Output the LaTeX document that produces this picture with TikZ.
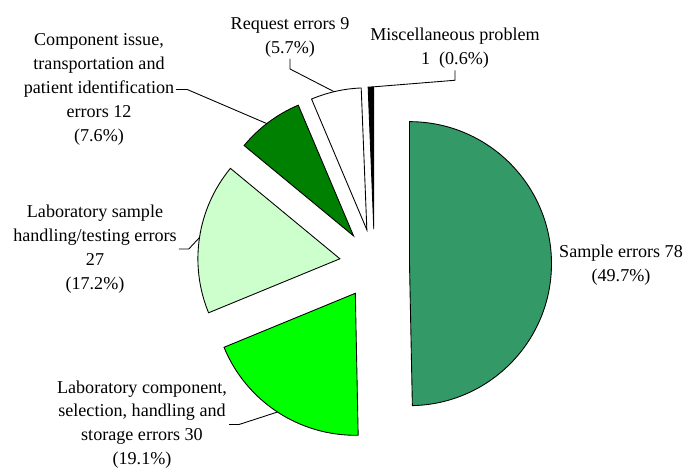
\documentclass[tikz,border=0pt]{standalone}
\usepackage{fontspec}
\setmainfont{Liberation Serif}
\usepackage{xcolor}
\usetikzlibrary{calc}
\definecolor{samplegreen}{RGB}{51,153,102}
\definecolor{labcompgreen}{RGB}{0,255,0}
\definecolor{labsamplegreen}{RGB}{204,255,204}
\definecolor{compgreen}{RGB}{0,128,0}

\begin{document}
\begin{tikzpicture}[
 x=0.02cm, y=0.02cm,
 slice/.style={draw=black, line width=0.5pt},
 label/.style={align=center, inner sep=1pt, font=\fontsize{10.3}{13.6}\selectfont},
 leader/.style={draw=black, line width=0.5pt}
]
\useasboundingbox (0,0) rectangle (685,468);

% Pie centre
\coordinate (c) at (374.5,204);

% Slices (exploded by 35, radius 142)
\filldraw[slice, fill=samplegreen] ($(c)+(0.575:35)$) -- ++(90:142)
 arc[start angle=90, end angle=-88.85, radius=142] -- cycle;
\filldraw[slice, fill=labcompgreen] ($(c)+(-123.25:35)$) -- ++(-88.85:142)
 arc[start angle=-88.85, end angle=-157.64, radius=142] -- cycle;
\filldraw[slice, fill=labsamplegreen] ($(c)+(-188.6:35)$) -- ++(-157.64:142)
 arc[start angle=-157.64, end angle=-219.55, radius=142] -- cycle;
\filldraw[slice, fill=compgreen] ($(c)+(126.69:35)$) -- ++(140.45:142)
 arc[start angle=140.45, end angle=112.93, radius=142] -- cycle;
\filldraw[slice, fill=white] ($(c)+(102.61:35)$) -- ++(112.93:142)
 arc[start angle=112.93, end angle=92.29, radius=142] -- cycle;
\filldraw[slice, fill=black] ($(c)+(91.15:35)$) -- ++(92.29:142)
 arc[start angle=92.29, end angle=90, radius=142] -- cycle;

% Arc mid points for the leaders
\coordinate (m-lcomp) at ($(c)+(-123.25:177)$);
\coordinate (m-lsamp) at ($(c)+(-188.6:177)$);
\coordinate (m-comp) at ($(c)+(127.5:177)$);
\coordinate (m-req) at ($(c)+(103.2:177)$);
\coordinate (m-misc) at ($(c)+(91.15:177)$);

% Labels
\node[label] (sample) at (621,203) {Sample errors 78\\(49.7\%)};
\node[label] (lcomp) at (142,43.5) {Laboratory component,\\selection, handling and\\storage errors 30\\(19.1\%)};
\node[label] (lsamp) at (95,219) {Laboratory sample\\handling/testing errors\\27\\(17.2\%)};
\node[label] (comp) at (99,378.5) {Component issue,\\transportation and\\patient identification\\errors 12\\(7.6\%)};
\node[label] (req) at (290,431) {Request errors 9\\(5.7\%)};
\node[label] (misc) at (455,420) {Miscellaneous problem\\1\ \ (0.6\%)};

% Leaders
\draw[leader] (lcomp.east) -- ++(10,0) -- (m-lcomp);
\draw[leader] (lsamp.east) -- ++(10,0) -- (m-lsamp);
\draw[leader] (comp.east) -- ++(11,0) -- (m-comp);
\draw[leader] (req.south) -- ++(0,-10) -- (m-req);
\draw[leader] (misc.south) -- ++(0,-10) -- (m-misc);

\end{tikzpicture}
\end{document}
